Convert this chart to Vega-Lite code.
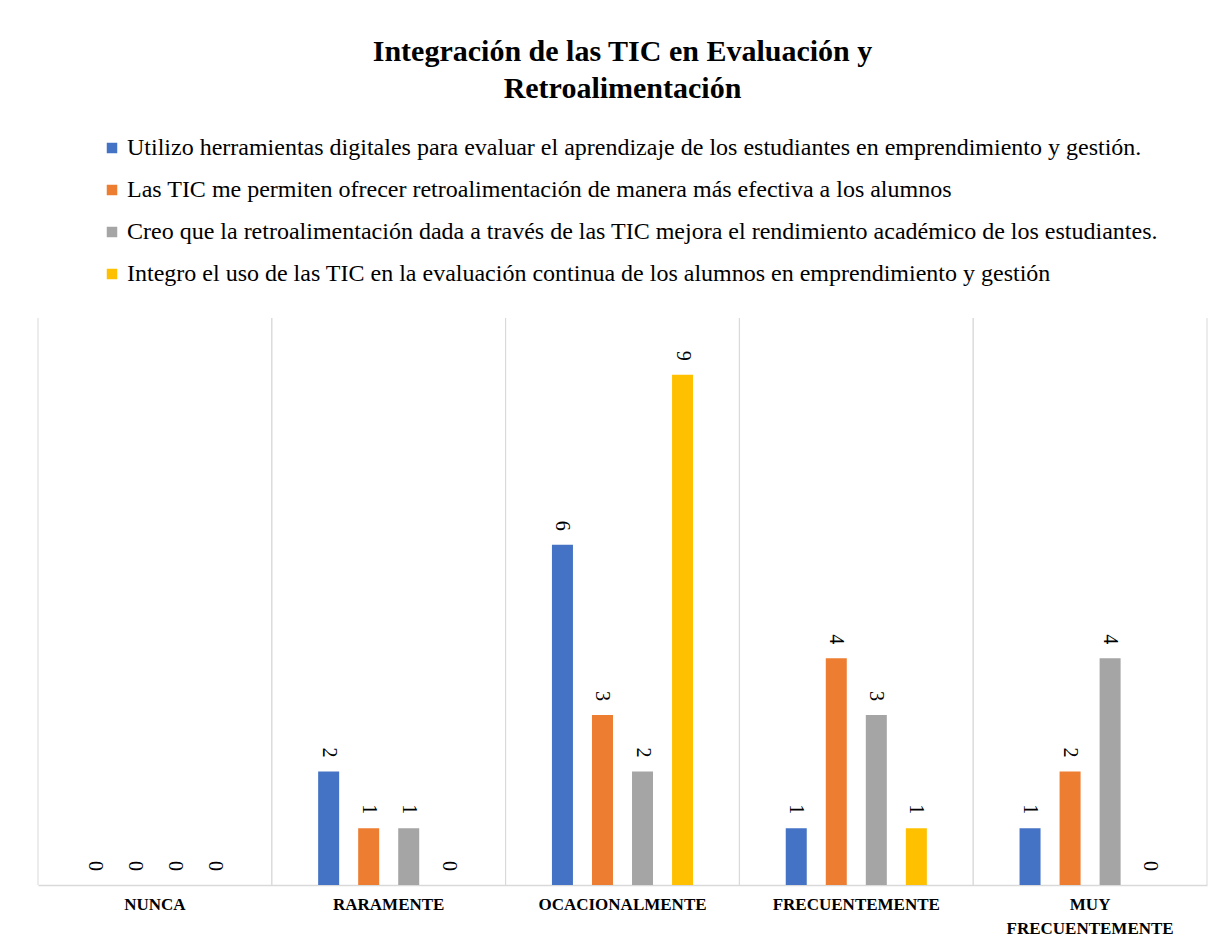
{
  "$schema": "https://vega.github.io/schema/vega-lite/v6.json",
  "autosize": {"type": "none"},
  "width": 1169,
  "height": 567,
  "padding": {"left": 38, "top": 318, "right": 13, "bottom": 65},
  "background": "white",
  "title": {
    "text": ["Integración de las TIC en Evaluación y", "Retroalimentación"],
    "font": "Liberation Serif",
    "fontSize": 30,
    "fontWeight": "bold",
    "color": "#000000",
    "lineHeight": 37,
    "anchor": "middle",
    "offset": 32
  },
  "config": {
    "view": {"stroke": null},
    "font": "Liberation Serif",
    "axisX": {
      "title": null,
      "labelAngle": 0,
      "labelFont": "Liberation Serif",
      "labelFontSize": 17,
      "labelFontWeight": "bold",
      "labelColor": "#000000",
      "labelPadding": 11,
      "labelLineHeight": 24,
      "labelBaseline": "top",
      "ticks": false,
      "grid": false,
      "domainColor": "#d9d9d9",
      "domainWidth": 1.5
    }
  },
  "datasets": {
    "valores": [
      {"categoria": "NUNCA", "serie": "Utilizo herramientas digitales para evaluar el aprendizaje de los estudiantes en emprendimiento y gestión.", "valor": 0},
      {"categoria": "NUNCA", "serie": "Las TIC me permiten ofrecer retroalimentación de manera más efectiva a los alumnos", "valor": 0},
      {"categoria": "NUNCA", "serie": "Creo que la retroalimentación dada a través de las TIC mejora el rendimiento académico de los estudiantes.", "valor": 0},
      {"categoria": "NUNCA", "serie": "Integro el uso de las TIC en la evaluación continua de los alumnos en emprendimiento y gestión", "valor": 0},
      {"categoria": "RARAMENTE", "serie": "Utilizo herramientas digitales para evaluar el aprendizaje de los estudiantes en emprendimiento y gestión.", "valor": 2},
      {"categoria": "RARAMENTE", "serie": "Las TIC me permiten ofrecer retroalimentación de manera más efectiva a los alumnos", "valor": 1},
      {"categoria": "RARAMENTE", "serie": "Creo que la retroalimentación dada a través de las TIC mejora el rendimiento académico de los estudiantes.", "valor": 1},
      {"categoria": "RARAMENTE", "serie": "Integro el uso de las TIC en la evaluación continua de los alumnos en emprendimiento y gestión", "valor": 0},
      {"categoria": "OCACIONALMENTE", "serie": "Utilizo herramientas digitales para evaluar el aprendizaje de los estudiantes en emprendimiento y gestión.", "valor": 6},
      {"categoria": "OCACIONALMENTE", "serie": "Las TIC me permiten ofrecer retroalimentación de manera más efectiva a los alumnos", "valor": 3},
      {"categoria": "OCACIONALMENTE", "serie": "Creo que la retroalimentación dada a través de las TIC mejora el rendimiento académico de los estudiantes.", "valor": 2},
      {"categoria": "OCACIONALMENTE", "serie": "Integro el uso de las TIC en la evaluación continua de los alumnos en emprendimiento y gestión", "valor": 9},
      {"categoria": "FRECUENTEMENTE", "serie": "Utilizo herramientas digitales para evaluar el aprendizaje de los estudiantes en emprendimiento y gestión.", "valor": 1},
      {"categoria": "FRECUENTEMENTE", "serie": "Las TIC me permiten ofrecer retroalimentación de manera más efectiva a los alumnos", "valor": 4},
      {"categoria": "FRECUENTEMENTE", "serie": "Creo que la retroalimentación dada a través de las TIC mejora el rendimiento académico de los estudiantes.", "valor": 3},
      {"categoria": "FRECUENTEMENTE", "serie": "Integro el uso de las TIC en la evaluación continua de los alumnos en emprendimiento y gestión", "valor": 1},
      {"categoria": "MUY FRECUENTEMENTE", "serie": "Utilizo herramientas digitales para evaluar el aprendizaje de los estudiantes en emprendimiento y gestión.", "valor": 1},
      {"categoria": "MUY FRECUENTEMENTE", "serie": "Las TIC me permiten ofrecer retroalimentación de manera más efectiva a los alumnos", "valor": 2},
      {"categoria": "MUY FRECUENTEMENTE", "serie": "Creo que la retroalimentación dada a través de las TIC mejora el rendimiento académico de los estudiantes.", "valor": 4},
      {"categoria": "MUY FRECUENTEMENTE", "serie": "Integro el uso de las TIC en la evaluación continua de los alumnos en emprendimiento y gestión", "valor": 0}
    ],
    "categorias": [
      {"categoria": "NUNCA"},
      {"categoria": "RARAMENTE"},
      {"categoria": "OCACIONALMENTE"},
      {"categoria": "FRECUENTEMENTE"},
      {"categoria": "MUY FRECUENTEMENTE"}
    ]
  },
  "layer": [
    {
      "data": {"name": "categorias"},
      "mark": {"type": "rule", "color": "#d9d9d9", "strokeWidth": 1},
      "encoding": {
        "x": {"field": "categoria", "type": "nominal", "bandPosition": 0,
              "sort": ["NUNCA", "RARAMENTE", "OCACIONALMENTE", "FRECUENTEMENTE", "MUY FRECUENTEMENTE"],
              "axis": {"labelExpr": "split(datum.value, ' ')"}}
      }
    },
    {
      "data": {"name": "categorias"},
      "mark": {"type": "rule", "color": "#d9d9d9", "strokeWidth": 1},
      "encoding": {
        "x": {"field": "categoria", "type": "nominal", "bandPosition": 1,
              "sort": ["NUNCA", "RARAMENTE", "OCACIONALMENTE", "FRECUENTEMENTE", "MUY FRECUENTEMENTE"],
              "axis": {"labelExpr": "split(datum.value, ' ')"}}
      }
    },
    {
      "data": {"name": "valores"},
      "encoding": {
        "x": {
          "field": "categoria", "type": "nominal",
          "sort": ["NUNCA", "RARAMENTE", "OCACIONALMENTE", "FRECUENTEMENTE", "MUY FRECUENTEMENTE"],
          "scale": {"paddingInner": 0, "paddingOuter": 0},
          "axis": {"labelExpr": "split(datum.value, ' ')"}
        },
        "xOffset": {
          "field": "serie", "type": "nominal",
          "sort": [
            "Utilizo herramientas digitales para evaluar el aprendizaje de los estudiantes en emprendimiento y gestión.",
            "Las TIC me permiten ofrecer retroalimentación de manera más efectiva a los alumnos",
            "Creo que la retroalimentación dada a través de las TIC mejora el rendimiento académico de los estudiantes.",
            "Integro el uso de las TIC en la evaluación continua de los alumnos en emprendimiento y gestión"
          ],
          "scale": {"paddingInner": 0, "paddingOuter": 0.92}
        },
        "y": {"field": "valor", "type": "quantitative", "scale": {"domain": [0, 10], "nice": false}, "axis": null}
      },
      "layer": [
        {
          "mark": {"type": "bar", "width": 21},
          "encoding": {
            "color": {
              "field": "serie", "type": "nominal",
              "scale": {
                "domain": [
                  "Utilizo herramientas digitales para evaluar el aprendizaje de los estudiantes en emprendimiento y gestión.",
                  "Las TIC me permiten ofrecer retroalimentación de manera más efectiva a los alumnos",
                  "Creo que la retroalimentación dada a través de las TIC mejora el rendimiento académico de los estudiantes.",
                  "Integro el uso de las TIC en la evaluación continua de los alumnos en emprendimiento y gestión"
                ],
                "range": ["#4472C4", "#ED7D31", "#A5A5A5", "#FFC000"]
              },
              "legend": {
                "title": null,
                "orient": "none",
                "legendX": 62,
                "legendY": -182,
                "direction": "vertical",
                "symbolType": "square",
                "symbolSize": 110,
                "symbolStrokeWidth": 0,
                "labelFont": "Liberation Serif",
                "labelFontSize": 24,
                "labelColor": "#000000",
                "labelLimit": 1200,
                "labelOffset": 3,
                "rowPadding": 18,
                "padding": 0
              }
            }
          }
        },
        {
          "mark": {"type": "text", "angle": 90, "align": "right", "baseline": "middle", "dx": -14,
                   "font": "Liberation Serif", "fontSize": 20, "color": "#000000"},
          "encoding": {
            "text": {"field": "valor", "type": "quantitative"}
          }
        }
      ]
    }
  ]
}
